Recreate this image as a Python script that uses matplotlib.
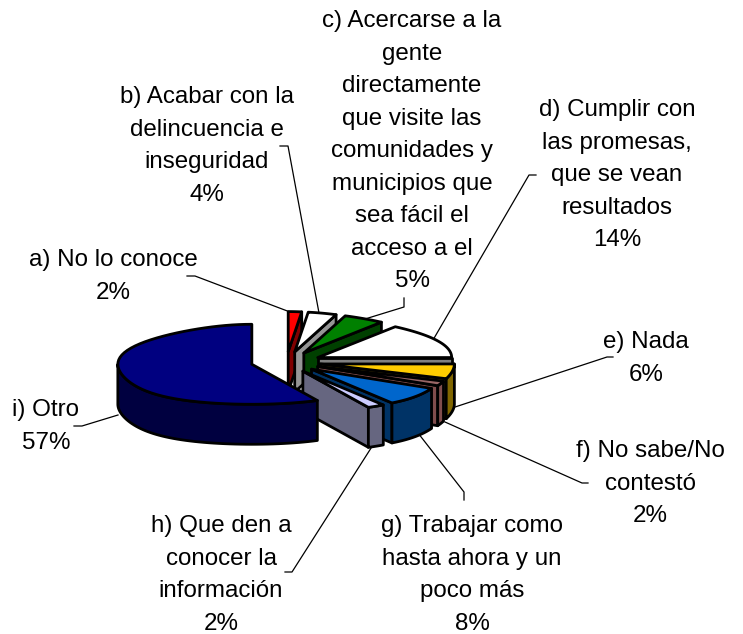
import matplotlib
matplotlib.use('Agg')
from matplotlib import pyplot as plt
from matplotlib.patches import Polygon
import numpy as np

plt.rcParams['font.family'] = ['Liberation Sans', 'DejaVu Sans']

# data
labels = ['a) No lo conoce\n2%',
          'b) Acabar con la\ndelincuencia e\ninseguridad\n4%',
          'c) Acercarse a la\ngente\ndirectamente\nque visite las\ncomunidades y\nmunicipios que\nsea fácil el\nacceso a el\n5%',
          'd) Cumplir con\nlas promesas,\nque se vean\nresultados\n14%',
          'e) Nada\n6%',
          'f) No sabe/No\ncontestó\n2%',
          'g) Trabajar como\nhasta ahora y un\npoco más\n8%',
          'h) Que den a\nconocer la\ninformación\n2%',
          'i) Otro\n57%']
values = [2, 4, 5, 14, 6, 2, 8, 2, 57]
top_colors = ['#FF0000', '#FFFFFF', '#008000', '#FFFFFF', '#FFCC00', '#996666', '#0066CC', '#CCCCFF', '#000080']
side_colors = ['#800000', '#969696', '#004000', '#808080', '#806600', '#804D4D', '#003366', '#666680', '#000040']

# label centre (x, y of first line)
label_pos = [(113, 258), (207, 95), (412, 19), (617, 108), (646, 340), (650, 449), (472, 524), (221, 524), (46, 408)]
leaders = [[(187, 276), (195, 276), (290, 312)],
           [(280, 146), (288, 146), (319, 313)],
           [(404, 298), (404, 307), (365, 319)],
           [(536, 175), (529, 175), (433, 340)],
           [(613, 357), (607, 357), (452, 408)],
           [(588, 483), (582, 483), (445, 422)],
           [(464, 500), (464, 492), (418, 433)],
           [(285, 572), (292, 572), (373, 445)],
           [(74, 426), (82, 426), (118, 415)]]

# pie geometry in pixels
cx, cy = 286, 362
rx, ry = 134, 40
explode = 35
depth = 40
persp = 0.2


def rim_point(c, ang):
    # front of the pie is drawn a bit wider than the back
    k = 1 - persp * np.cos(ang) ** 3
    return c[0] + rx * k * np.sin(ang), c[1] - ry * np.cos(ang)


def arc(c, a0, a1):
    return [rim_point(c, t) for t in np.linspace(a0, a1, 60)]


def down(pts):
    return [(x, y + depth) for x, y in pts]


fig = plt.figure(figsize=(7.43, 6.34), dpi=100)
ax = fig.add_axes([0, 0, 1, 1])
ax.set_xlim(0, 743)
ax.set_ylim(634, 0)
ax.axis('off')

for pts in leaders:
    xs, ys = zip(*pts)
    ax.plot(xs, ys, color='black', lw=0.9, zorder=1)

edges = np.cumsum([0] + values) / sum(values) * 2 * np.pi
for i in range(len(values)):
    a0, a1 = edges[i], edges[i + 1]
    mid = (a0 + a1) / 2
    c = (cx + explode * np.sin(mid), cy - explode * ry / rx * np.cos(mid))
    kw = dict(edgecolor='black', lw=2, joinstyle='round', zorder=2 + i)
    # cut face, only when it looks to the viewer
    if a1 < np.pi:
        end = rim_point(c, a1)
        ax.add_patch(Polygon([c, end] + down([end, c]), facecolor=side_colors[i], **kw))
    # outer wall
    w0, w1 = max(a0, np.pi / 2), min(a1, 3 * np.pi / 2)
    if w1 > w0:
        rim = arc(c, w0, w1)
        ax.add_patch(Polygon(rim + down(rim)[::-1], facecolor=side_colors[i], **kw))
    ax.add_patch(Polygon([c] + arc(c, a0, a1), facecolor=top_colors[i], **kw))

for lab, (x, y) in zip(labels, label_pos):
    ax.text(x, y - 9, lab, ha='center', va='top', fontsize=17.4, linespacing=1.62, color='black', zorder=20)

fig.savefig('out.png', dpi=100, facecolor='white')
